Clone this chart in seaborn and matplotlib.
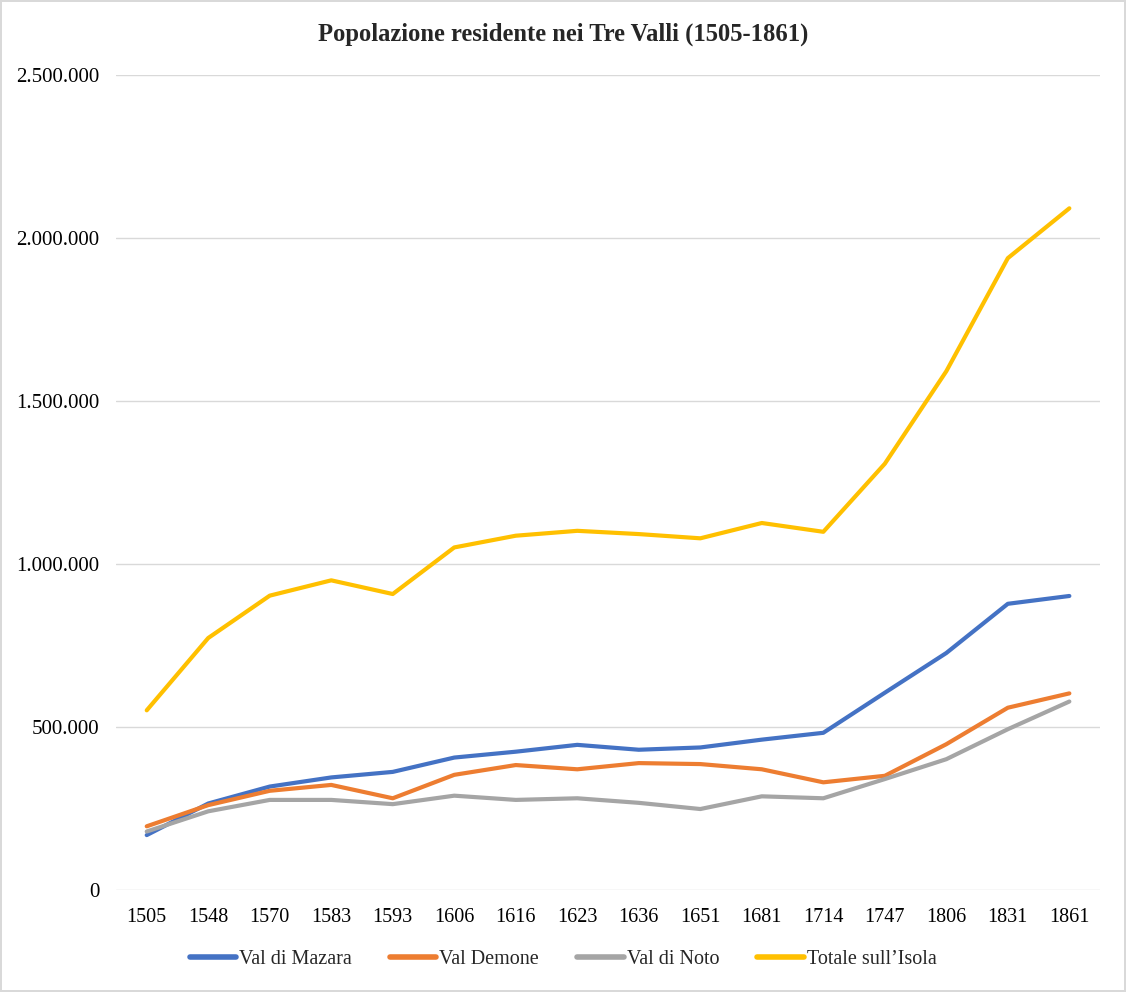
import pandas as pd
import matplotlib
matplotlib.use("Agg")
import matplotlib.pyplot as plt
import seaborn as sns
from matplotlib.ticker import FuncFormatter

years = ["1505", "1548", "1570", "1583", "1593", "1606", "1616", "1623",
         "1636", "1651", "1681", "1714", "1747", "1806", "1831", "1861"]

val_di_mazara = [168000, 265000, 317000, 345000, 362000, 406000, 424000, 445000,
                 430000, 437000, 461000, 482000, 605000, 727000, 878000, 902000]
val_demone = [195000, 260000, 304000, 322000, 281000, 353000, 383000, 370000,
              389000, 386000, 370000, 330000, 350000, 447000, 559000, 603000]
val_di_noto = [179000, 241000, 276000, 276000, 263000, 289000, 276000, 281000,
               267000, 248000, 287000, 281000, 340000, 401000, 493000, 578000]
totale = [551000, 773000, 903000, 950000, 908000, 1051000, 1087000, 1102000,
          1092000, 1079000, 1126000, 1099000, 1308000, 1592000, 1939000, 2092000]

series_names = ["Val di Mazara", "Val Demone", "Val di Noto", "Totale sull\u2019Isola"]
series_colors = ["#4472c4", "#ed7d31", "#a5a5a5", "#ffc000"]

rows = []
for name, values in zip(series_names, [val_di_mazara, val_demone, val_di_noto, totale]):
    for y, v in zip(years, values):
        rows.append({"Anno": y, "Popolazione": v, "Serie": name})
df = pd.DataFrame(rows)

sns.set_style("white")
plt.rcParams['font.family'] = ['Liberation Serif', 'DejaVu Serif']

fig = plt.figure(figsize=(11.26, 9.92), dpi=100)
fig.patch.set_edgecolor("#d9d9d9")
fig.patch.set_linewidth(1.5)
ax = fig.add_axes([0.103, 0.103, 0.874, 0.821])

sns.lineplot(data=df, x="Anno", y="Popolazione", hue="Serie", hue_order=series_names,
             palette=series_colors, linewidth=3, sort=False, ax=ax, legend=True,
             solid_capstyle="round", solid_joinstyle="round")

ax.set_xlim(-0.5, len(years) - 0.5)
ax.set_ylim(0, 2500000)
ax.set_yticks([0, 500000, 1000000, 1500000, 2000000, 2500000])
ax.yaxis.set_major_formatter(FuncFormatter(lambda v, p: f"{int(v):,}".replace(",", ".")))
ax.grid(axis="y", color="#d9d9d9", linewidth=1)
ax.set_axisbelow(True)
for s in ["top", "right", "left", "bottom"]:
    ax.spines[s].set_visible(False)
ax.tick_params(axis="y", length=0, labelsize=15, colors="black", pad=12)
ax.tick_params(axis="x", length=0, labelsize=14.5, colors="black", pad=13)
ax.set_xlabel("")
ax.set_ylabel("")

fig.text(0.5, 1 - 34 / 992, "Popolazione residente nei Tre Valli (1505-1861)",
         fontsize=17.7, fontweight="bold", ha="center", va="center")

handles, labels = ax.get_legend_handles_labels()
ax.get_legend().remove()
leg = fig.legend(handles, labels, loc="center", bbox_to_anchor=(0.5, 1 - 959 / 992),
                 ncol=4, frameon=False, fontsize=14.5, handlelength=2.3,
                 handletextpad=0.15, columnspacing=1.9)
for line in leg.get_lines():
    line.set_linewidth(4)

plt.savefig("out.png", dpi=100)
plt.close()
